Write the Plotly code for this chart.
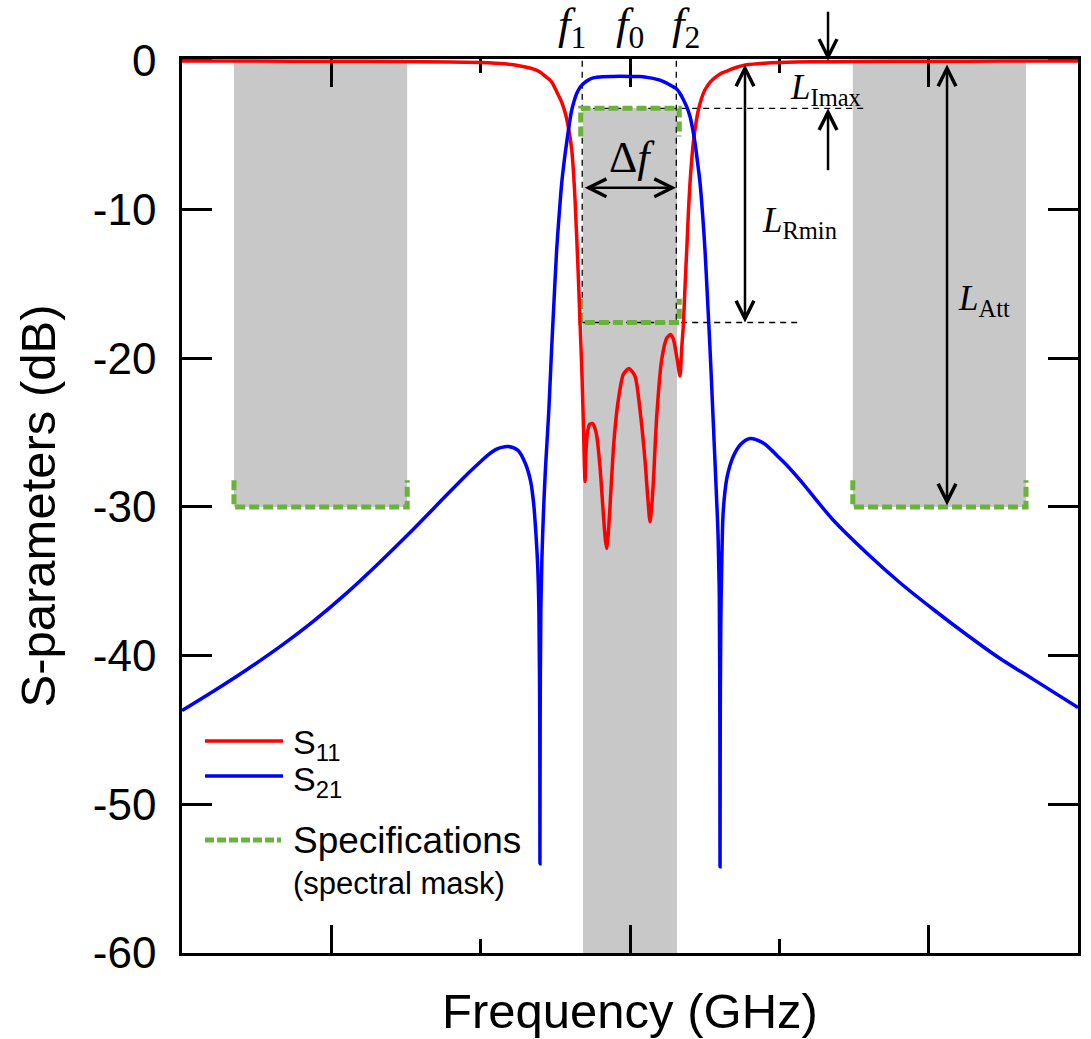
import plotly.graph_objects as go

# ---------------- data ----------------
freq_s21 = [-3.0, -2.79, -2.567, -2.344, -2.121, -1.898, -1.674, -1.451, -1.228, -1.1,
            -1.005, -0.95, -0.9, -0.86, -0.815, -0.75, -0.70, -0.665, -0.645, -0.63,
            -0.618, -0.610, -0.6045, -0.603, -0.6015, -0.597, -0.59, -0.58, -0.567, -0.555,
            -0.543, -0.525, -0.508, -0.491, -0.474, -0.457, -0.44, -0.424, -0.407, -0.39,
            -0.374, -0.357, -0.335, -0.313, -0.28, -0.246, -0.18, -0.114, 0.0, 0.067,
            0.134, 0.2, 0.246, 0.28, 0.313, 0.335, 0.357, 0.38, 0.402, 0.418,
            0.435, 0.452, 0.469, 0.486, 0.502, 0.519, 0.536, 0.552, 0.565, 0.578,
            0.590, 0.598, 0.6015, 0.603, 0.6045, 0.608, 0.615, 0.625, 0.65, 0.692,
            0.74, 0.804, 0.85, 0.9, 0.95, 1.0, 1.05, 1.139, 1.362, 1.585,
            1.808, 2.032, 2.255, 2.478, 2.701, 3.0]
s21_db = [-43.7, -42.4, -40.95, -39.4, -37.7, -35.8, -33.7, -31.5, -29.2, -27.9,
          -27.0, -26.5, -26.15, -26.0, -25.94, -26.2, -27.1, -28.3, -29.8, -31.8,
          -34.0, -37.0, -44.0, -54.0, -44.0, -37.0, -33.5, -30.5, -27.6, -25.5,
          -23.4, -19.4, -16.0, -12.7, -10.3, -8.2, -6.7, -5.5, -4.3, -3.3,
          -2.7, -2.2, -1.8, -1.55, -1.3, -1.15, -1.07, -1.05, -1.05, -1.06,
          -1.15, -1.3, -1.5, -1.7, -1.9, -2.2, -2.6, -3.1, -3.75, -4.5,
          -5.5, -6.8, -8.2, -10.3, -12.7, -16.0, -19.4, -23.0, -26.0, -29.0,
          -32.0, -36.0, -44.0, -54.2, -44.0, -38.0, -33.5, -30.2, -28.0, -26.6,
          -25.8, -25.4, -25.5, -25.75, -26.2, -26.7, -27.2, -28.2, -30.9, -33.1,
          -35.1, -36.9, -38.6, -40.2, -41.6, -43.5]

freq_s11 = [-3.0, -2.5, -2.0, -1.5, -1.2, -1.0, -0.9, -0.78, -0.7, -0.65,
            -0.603, -0.56, -0.53, -0.514, -0.49, -0.47, -0.457, -0.44, -0.424, -0.407,
            -0.39, -0.379, -0.368, -0.348, -0.335, -0.322, -0.312, -0.301, -0.295, -0.285,
            -0.27, -0.25, -0.235, -0.223, -0.201, -0.179, -0.165, -0.156, -0.147, -0.134,
            -0.112, -0.095, -0.078, -0.045, -0.007, 0.033, 0.067, 0.1, 0.12, 0.134,
            0.145, 0.156, 0.179, 0.212, 0.246, 0.272, 0.29, 0.301, 0.318, 0.335,
            0.345, 0.357, 0.368, 0.38, 0.391, 0.402, 0.413, 0.424, 0.44, 0.458,
            0.48, 0.502, 0.54, 0.58, 0.62, 0.67, 0.72, 0.78, 0.9, 1.0,
            1.2, 1.5, 2.0, 2.5, 3.0]
s11_db = [-0.02, -0.02, -0.03, -0.05, -0.08, -0.12, -0.17, -0.27, -0.42, -0.55,
          -0.75, -1.1, -1.35, -1.6, -2.1, -2.5, -2.8, -3.3, -3.9, -4.8,
          -6.0, -7.4, -9.35, -14.0, -17.5, -21.0, -24.5, -28.3, -26.3, -25.0,
          -24.45, -24.4, -24.7, -25.2, -27.3, -30.4, -32.2, -32.8, -32.0, -30.0,
          -26.2, -24.2, -22.8, -21.1, -20.7, -21.2, -23.5, -26.8, -29.5, -31.0,
          -30.0, -28.4, -23.9, -20.1, -18.65, -18.4, -18.7, -19.2, -20.2, -21.2,
          -19.5, -17.8, -15.3, -12.7, -10.2, -8.2, -6.7, -5.5, -4.3, -3.3,
          -2.5, -1.95, -1.4, -1.05, -0.8, -0.6, -0.42, -0.27, -0.16, -0.11,
          -0.07, -0.05, -0.03, -0.02, -0.02]

# spectral mask (specifications): stopbands and passband brackets
spec_x = [-2.652, -2.652, -1.492, -1.492, None,
          1.492, 1.492, 2.652, 2.652, None,
          -0.33, -0.33, 0.33, 0.33, None,
          -0.33, -0.33, 0.33, 0.33]
spec_y = [-28.2, -30.0, -30.0, -28.2, None,
          -28.2, -30.0, -30.0, -28.2, None,
          -5.1, -3.2, -3.2, -5.1, None,
          -16.0, -17.6, -17.6, -16.0]

# shaded regions
stop_lo = [-2.652, -1.492]
stop_hi = [1.492, 2.652]
pass_band = [-0.315, 0.315]
att_level = -30.0
il_max = -3.2
rl_min = -17.6

ytick_vals = [0, -10, -20, -30, -40, -50, -60]
ytick_text = ["0", "-10", "-20", "-30", "-40", "-50", "-60"]
xtick_major = [-2, 0, 2]
xtick_minor = [-1, 1]

# ---------------- figure ----------------
fig = go.Figure()

fig.add_trace(go.Scatter(x=spec_x, y=spec_y, mode="lines", name="Specifications",
                         line=dict(color="#6ab23c", width=5, dash="10px,4px"),
                         showlegend=False, connectgaps=False))
fig.add_trace(go.Scatter(x=freq_s11, y=s11_db, mode="lines", name="S11",
                         line=dict(color="#ff0000", width=3.5, shape="spline", smoothing=0.7),
                         showlegend=False))
fig.add_trace(go.Scatter(x=freq_s21, y=s21_db, mode="lines", name="S21",
                         line=dict(color="#0000ff", width=3.5, shape="spline", smoothing=0.9),
                         showlegend=False))

gray = "#c8c8c8"
shapes = [
    dict(type="rect", xref="x", yref="y", x0=stop_lo[0], x1=stop_lo[1], y0=att_level, y1=0,
         fillcolor=gray, line=dict(width=0), layer="below"),
    dict(type="rect", xref="x", yref="y", x0=stop_hi[0], x1=stop_hi[1], y0=att_level, y1=0,
         fillcolor=gray, line=dict(width=0), layer="below"),
    dict(type="rect", xref="x", yref="y", x0=pass_band[0], x1=pass_band[1], y0=-60, y1=il_max,
         fillcolor=gray, line=dict(width=0), layer="below"),
]
dline = dict(color="black", width=1.3, dash="6px,5px")
for xv in [-0.32, 0.31]:
    shapes.append(dict(type="line", xref="x", yref="y", x0=xv, x1=xv, y0=0, y1=rl_min,
                       line=dline, layer="below"))
shapes.append(dict(type="line", xref="x", yref="y", x0=-0.32, x1=1.575, y0=il_max, y1=il_max,
                   line=dline, layer="below"))
shapes.append(dict(type="line", xref="x", yref="y", x0=-0.32, x1=1.15, y0=rl_min, y1=rl_min,
                   line=dline, layer="below"))

# manual legend
def px2paper_x(px):
    return (px - 182) / 896.0

def py2paper_y(py):
    return (953 - py) / 894.0

shapes.append(dict(type="line", xref="paper", yref="paper", x0=px2paper_x(205), x1=px2paper_x(283),
                   y0=py2paper_y(741), y1=py2paper_y(741), line=dict(color="#ff0000", width=3.5)))
shapes.append(dict(type="line", xref="paper", yref="paper", x0=px2paper_x(205), x1=px2paper_x(283),
                   y0=py2paper_y(776), y1=py2paper_y(776), line=dict(color="#0000ff", width=3.5)))
shapes.append(dict(type="line", xref="paper", yref="paper", x0=px2paper_x(205), x1=px2paper_x(281),
                   y0=py2paper_y(840), y1=py2paper_y(840),
                   line=dict(color="#6ab23c", width=5, dash="9px,3px")))
fig.update_layout(shapes=shapes)

sans = "Arial, Liberation Sans, sans-serif"
serif = "Times New Roman, Liberation Serif, serif"

ann = []
def arrow(x, y, ax, ay, both=False):
    d = dict(x=x, y=y, ax=ax, ay=ay, xref="x", yref="y", axref="x", ayref="y",
             text="", showarrow=True, arrowhead=5, arrowsize=1.4, arrowwidth=2.5,
             arrowcolor="black", standoff=0, startstandoff=0)
    if both:
        d.update(arrowside="end+start", startarrowhead=5, startarrowsize=1.4)
    return d

ann.append(arrow(0.308, -8.54, -0.313, -8.54, both=True))      # delta f
ann.append(arrow(0.77, -17.6, 0.77, -0.15, both=True))          # L_Rmin
ann.append(arrow(2.123, -29.9, 2.123, -0.15, both=True))        # L_Att
ann.append(arrow(1.326, 0.0, 1.326, 3.4))                       # L_Imax down
ann.append(arrow(1.326, il_max, 1.326, -7.46))                  # L_Imax up

def label(x, y, text, size, xanchor="center", yref="y", xref="x"):
    return dict(x=x, y=y, xref=xref, yref=yref, text=text, showarrow=False,
                xanchor=xanchor, yanchor="middle", font=dict(family=serif, size=size, color="black"))

ann.append(label(0.013, -6.5, "Δ<i>f</i>", 44))
ann.append(label(1.058, -1.9, "<i>L</i><sub>Imax</sub>", 35, xanchor="left"))
ann.append(label(0.871, -10.9, "<i>L</i><sub>Rmin</sub>", 35, xanchor="left"))
ann.append(label(2.183, -16.1, "<i>L</i><sub>Att</sub>", 35, xanchor="left"))
f_y = py2paper_y(27)
ann.append(label(-0.388, f_y, "<i>f</i><sub>1</sub>", 45, yref="paper"))
ann.append(label(0.0, f_y, "<i>f</i><sub>0</sub>", 45, yref="paper"))
ann.append(label(0.372, f_y, "<i>f</i><sub>2</sub>", 45, yref="paper"))

def leg_text(py, text, size):
    return dict(x=px2paper_x(291), y=py2paper_y(py), xref="paper", yref="paper", text=text,
                showarrow=False, xanchor="left", yanchor="middle",
                font=dict(family=sans, size=size, color="black"))

ann.append(leg_text(744, "S<sub>11</sub>", 34))
ann.append(leg_text(781, "S<sub>21</sub>", 34))
ann.append(leg_text(840, "Specifications", 37))
ann.append(leg_text(883, "(spectral mask)", 31))
fig.update_layout(annotations=ann)

axis_common = dict(showline=True, linecolor="black", linewidth=2.5, mirror="ticks",
                   ticks="inside", tickcolor="black", tickwidth=2.5,
                   showgrid=False, zeroline=False, layer="below traces", automargin=False)

fig.update_xaxes(range=[-3, 3], tickmode="array", tickvals=xtick_major, ticklen=28,
                 showticklabels=False,
                 minor=dict(tickmode="array", tickvals=xtick_minor, ticklen=14, tickwidth=2.5,
                            ticks="inside", tickcolor="black", showgrid=False),
                 title=dict(text="Frequency (GHz)", font=dict(family=sans, size=49, color="black"),
                            standoff=39),
                 **axis_common)
fig.update_yaxes(range=[-60, 0.12], tickmode="array", tickvals=ytick_vals, ticktext=ytick_text,
                 ticklen=30, ticklabelstandoff=14,
                 tickfont=dict(family=sans, size=44, color="black"),
                 title=dict(text="S-parameters (dB)", font=dict(family=sans, size=49, color="black"),
                            standoff=22),
                 **axis_common)

fig.update_layout(width=1091, height=1039, margin=dict(l=182, r=13, t=59, b=86, pad=0),
                  plot_bgcolor="white", paper_bgcolor="white", showlegend=False)

fig.write_html("out.html")
